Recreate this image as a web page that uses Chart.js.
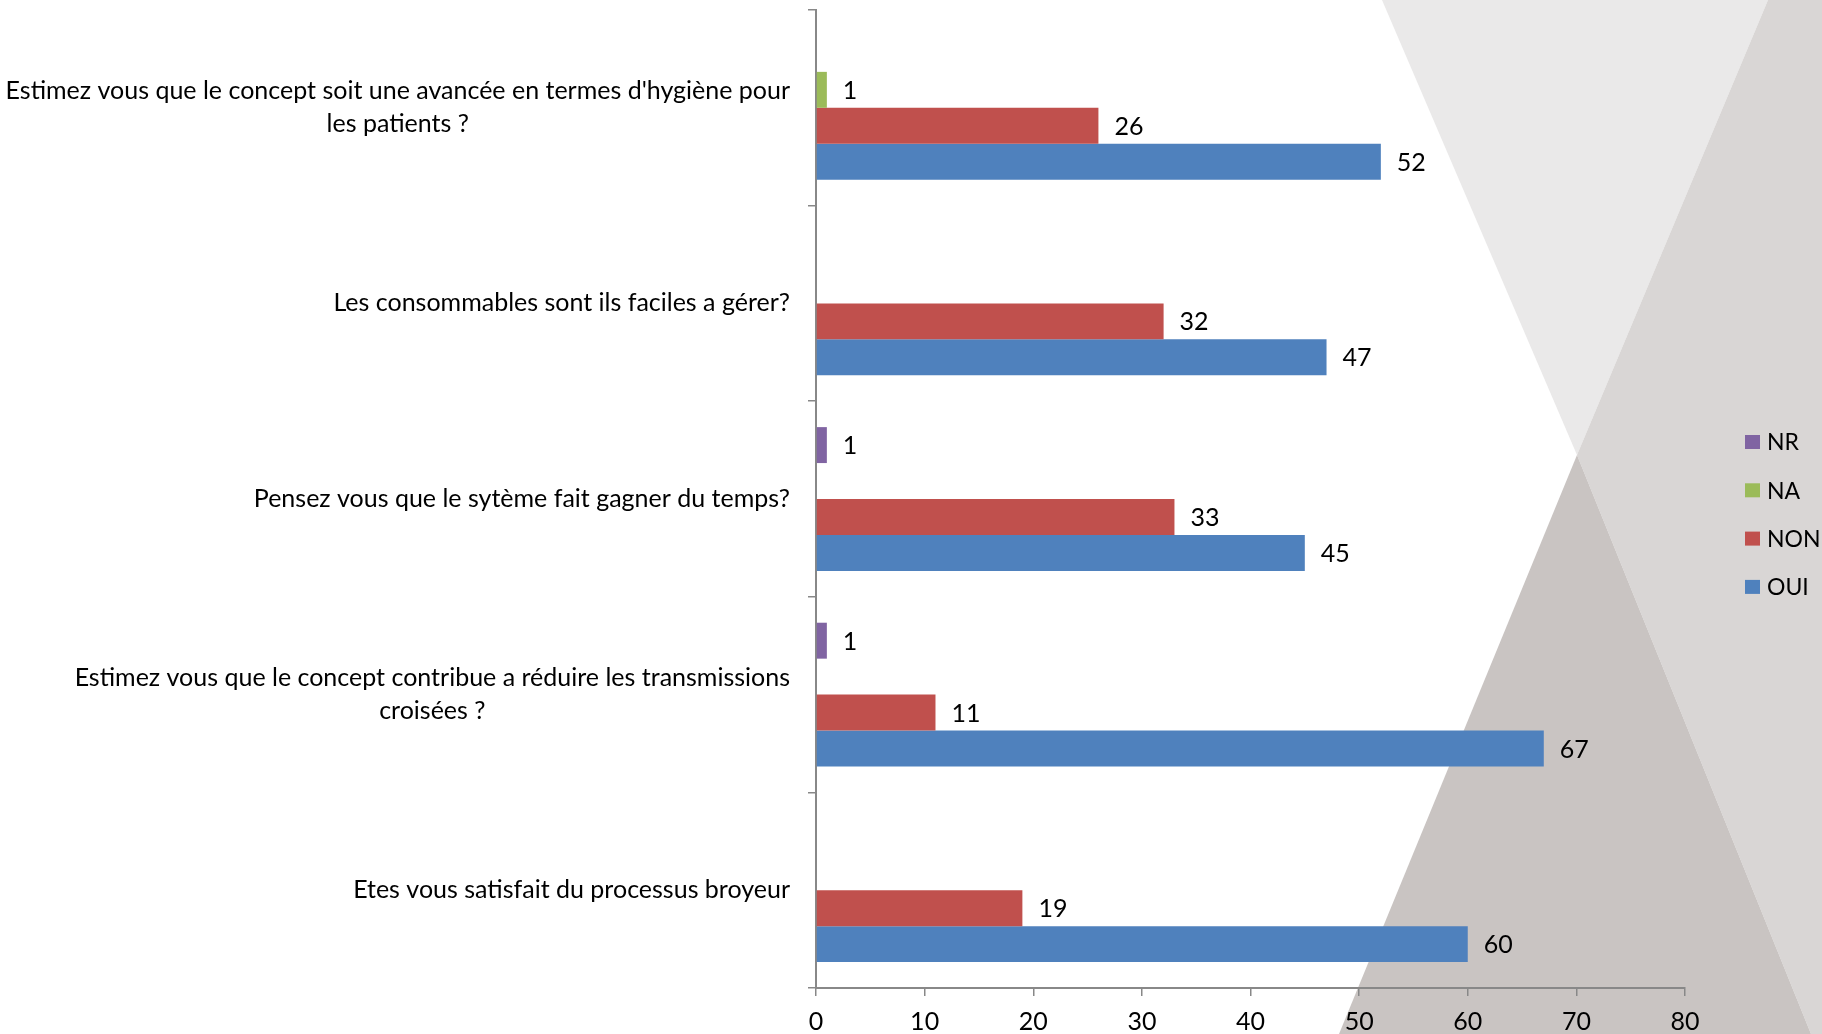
<!DOCTYPE html>
<html lang="fr">
<head>
<meta charset="utf-8">
<title>Enquête satisfaction</title>
<script src="https://cdn.jsdelivr.net/npm/chart.js@4.4.1/dist/chart.umd.min.js"></script>
<style>
    html, body { margin: 0; padding: 0; background: #fff; }
    #wrap { width: 1822px; height: 1034px; position: relative; }
</style>
</head>
<body>
<div id="wrap"><canvas id="survey"></canvas></div>
<script>
// questions, one array of lines per category
const questions = [
    ["Estimez vous que le concept soit une avancée en termes d'hygiène pour", "les patients ?"],
    ["Les consommables sont ils faciles a gérer?"],
    ["Pensez vous que le sytème fait gagner du temps?"],
    ["Estimez vous que le concept contribue a réduire les transmissions", "croisées ?"],
    ["Etes vous satisfait du processus broyeur"]
];
const seriesNames = ["NR", "NA", "NON", "OUI"];
const nrValues = [null, null, 1, 1, null];
const naValues = [1, null, null, null, null];
const nonValues = [26, 32, 33, 11, 19];
const ouiValues = [52, 47, 45, 67, 60];
const xTicks = [0, 10, 20, 30, 40, 50, 60, 70, 80];

const colors = ["#8064a2", "#9bbb59", "#c0504d", "#4f81bd"];
const axisColor = "#888888";
const FONT = "Lato, 'Open Sans', sans-serif";

// grey triangles behind the chart
const backdrop = {
    id: "backdrop",
    beforeDraw(chart) {
        const ctx = chart.ctx;
        const w = chart.width, h = chart.height;
        const apex = [1577, 455];
        ctx.save();
        ctx.fillStyle = "#ffffff";
        ctx.fillRect(0, 0, w, h);
        const poly = (pts, fill) => {
            ctx.beginPath();
            ctx.moveTo(pts[0][0], pts[0][1]);
            pts.slice(1).forEach(p => ctx.lineTo(p[0], p[1]));
            ctx.closePath();
            ctx.fillStyle = fill;
            ctx.fill();
        };
        poly([[1382, 0], [1768, 0], apex], "#eae9e9");
        poly([[1768, 0], [w, 0], [w, h], [1811, h], apex], "#d9d6d5");
        poly([apex, [1811, h], [1339, h]], "#c9c4c2");
        ctx.restore();
    }
};

// question text, right-aligned block with centred lines
const questionLabels = {
    id: "questionLabels",
    afterDraw(chart) {
        const ctx = chart.ctx;
        const yScale = chart.scales.y;
        const right = chart.chartArea.left - 26;
        const lineH = 33;
        ctx.save();
        ctx.font = "25px " + FONT;
        ctx.fillStyle = "#000";
        ctx.textAlign = "center";
        ctx.textBaseline = "middle";
        questions.forEach((lines, i) => {
            const y = yScale.getPixelForValue(i);
            const width = Math.max(...lines.map(l => ctx.measureText(l).width));
            const cx = right - width / 2;
            const y0 = y - (lines.length - 1) * lineH / 2;
            lines.forEach((l, k) => ctx.fillText(l, cx, y0 + k * lineH));
        });
        ctx.restore();
    }
};

// numbers next to each bar end
const valueLabels = {
    id: "valueLabels",
    afterDatasetsDraw(chart) {
        const ctx = chart.ctx;
        ctx.save();
        ctx.font = "25px " + FONT;
        ctx.fillStyle = "#000";
        ctx.textAlign = "left";
        ctx.textBaseline = "middle";
        chart.data.datasets.forEach((ds, di) => {
            const meta = chart.getDatasetMeta(di);
            meta.data.forEach((bar, i) => {
                const v = ds.data[i];
                if (v === null || v === undefined) return;
                ctx.fillText(String(v), bar.x + 16, bar.y + 1);
            });
        });
        ctx.restore();
    }
};

// legend on the right
const sideLegend = {
    id: "sideLegend",
    afterDraw(chart) {
        const ctx = chart.ctx;
        ctx.save();
        ctx.font = "23px " + FONT;
        ctx.textAlign = "left";
        ctx.textBaseline = "middle";
        chart.data.datasets.forEach((ds, i) => {
            const y = 442 + i * 48.3;
            ctx.fillStyle = ds.backgroundColor;
            ctx.fillRect(1745, y - 7, 15, 14);
            ctx.fillStyle = "#000";
            ctx.fillText(ds.label, 1767, y + 1);
        });
        ctx.restore();
    }
};

const seriesValues = [nrValues, naValues, nonValues, ouiValues];

new Chart(document.getElementById("survey"), {
    type: "bar",
    data: {
        labels: questions,
        datasets: seriesNames.map((name, i) => ({
            label: name,
            data: seriesValues[i],
            backgroundColor: colors[i],
            borderWidth: 0,
            categoryPercentage: 0.735,
            barPercentage: 1.0
        }))
    },
    options: {
        indexAxis: "y",
        responsive: true,
        maintainAspectRatio: false,
        devicePixelRatio: 1,
        animation: false,
        layout: { padding: { left: 808, right: 137, top: 10, bottom: 0 } },
        plugins: {
            legend: { display: false },
            tooltip: { enabled: false }
        },
        scales: {
            x: {
                min: 0,
                max: 80,
                afterBuildTicks(scale) {
                    scale.ticks = xTicks.map(v => ({ value: v }));
                },
                afterFit(scale) {
                    scale.height = 46;
                },
                ticks: {
                    font: { family: FONT, size: 25 },
                    color: "#000",
                    padding: 11
                },
                grid: {
                    drawOnChartArea: false,
                    tickLength: 8,
                    color: axisColor,
                    lineWidth: 1.5
                },
                border: { color: axisColor, width: 2 }
            },
            y: {
                ticks: { display: false },
                grid: {
                    drawOnChartArea: false,
                    tickLength: 8,
                    color: axisColor,
                    lineWidth: 1.5,
                    offset: true
                },
                border: { color: axisColor, width: 2 }
            }
        }
    },
    plugins: [backdrop, questionLabels, valueLabels, sideLegend]
});
</script>
</body>
</html>
